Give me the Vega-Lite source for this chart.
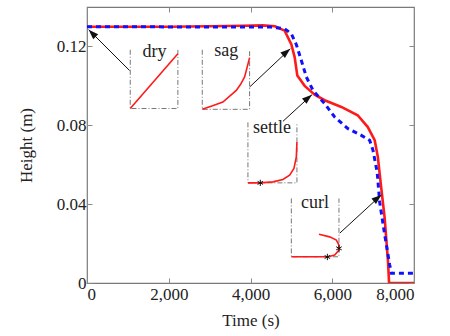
{
  "$schema": "https://vega.github.io/schema/vega-lite/v6.json",
  "width": 327,
  "height": 276,
  "autosize": {"type": "none"},
  "padding": {"left": 87, "top": 7, "right": 36, "bottom": 53},
  "config": {
    "view": {"stroke": "#7a7a7a", "strokeWidth": 1.2},
    "font": "'Liberation Serif', serif",
    "axis": {
      "labelFont": "'Liberation Serif', serif", "titleFont": "'Liberation Serif', serif",
      "labelFontSize": 17, "titleFontSize": 17, "labelColor": "#222", "titleColor": "#222",
      "titleFontWeight": "normal", "grid": false, "domain": false,
      "tickColor": "#8a8a8a", "tickSize": -5, "tickWidth": 1
    }
  },
  "datasets": {
    "curves": [
      {"s": "measured", "t": 0, "h": 0.13}, {"s": "measured", "t": 1000, "h": 0.13}, {"s": "measured", "t": 2000, "h": 0.13},
      {"s": "measured", "t": 3000, "h": 0.1302}, {"s": "measured", "t": 3800, "h": 0.1305}, {"s": "measured", "t": 4300, "h": 0.1307},
      {"s": "measured", "t": 4600, "h": 0.1302}, {"s": "measured", "t": 4835, "h": 0.128}, {"s": "measured", "t": 5000, "h": 0.121},
      {"s": "measured", "t": 5080, "h": 0.1146}, {"s": "measured", "t": 5145, "h": 0.1053}, {"s": "measured", "t": 5325, "h": 0.1},
      {"s": "measured", "t": 5570, "h": 0.0955}, {"s": "measured", "t": 5814, "h": 0.0927}, {"s": "measured", "t": 6222, "h": 0.0893},
      {"s": "measured", "t": 6622, "h": 0.0851}, {"s": "measured", "t": 6870, "h": 0.0791}, {"s": "measured", "t": 7038, "h": 0.0724},
      {"s": "measured", "t": 7115, "h": 0.064}, {"s": "measured", "t": 7200, "h": 0.048}, {"s": "measured", "t": 7282, "h": 0.033},
      {"s": "measured", "t": 7364, "h": 0.011}, {"s": "measured", "t": 7390, "h": 0.0}, {"s": "measured", "t": 8000, "h": 0.0},
      {"s": "model", "t": 0, "h": 0.13}, {"s": "model", "t": 4500, "h": 0.1298}, {"s": "model", "t": 4835, "h": 0.129},
      {"s": "model", "t": 5000, "h": 0.1264}, {"s": "model", "t": 5120, "h": 0.121}, {"s": "model", "t": 5244, "h": 0.1129},
      {"s": "model", "t": 5366, "h": 0.1045}, {"s": "model", "t": 5530, "h": 0.0977}, {"s": "model", "t": 5814, "h": 0.091},
      {"s": "model", "t": 6059, "h": 0.0842}, {"s": "model", "t": 6385, "h": 0.0783}, {"s": "model", "t": 6712, "h": 0.0749},
      {"s": "model", "t": 6915, "h": 0.0724}, {"s": "model", "t": 6997, "h": 0.0673}, {"s": "model", "t": 7100, "h": 0.056},
      {"s": "model", "t": 7160, "h": 0.041}, {"s": "model", "t": 7283, "h": 0.0245}, {"s": "model", "t": 7405, "h": 0.0093},
      {"s": "model", "t": 7446, "h": 0.005}, {"s": "model", "t": 8000, "h": 0.005}
    ],
    "insets": [
      {"k": "dry", "i": 0, "t": 1058, "h": 0.0885}, {"k": "dry", "i": 1, "t": 2223, "h": 0.1163},
      {"k": "sag", "i": 0, "t": 2820, "h": 0.0881}, {"k": "sag", "i": 1, "t": 3072, "h": 0.0899}, {"k": "sag", "i": 2, "t": 3324, "h": 0.0918},
      {"k": "sag", "i": 3, "t": 3652, "h": 0.0977}, {"k": "sag", "i": 4, "t": 3758, "h": 0.1008}, {"k": "sag", "i": 5, "t": 3856, "h": 0.1045},
      {"k": "sag", "i": 6, "t": 3978, "h": 0.1143},
      {"k": "settle", "i": 0, "t": 3937, "h": 0.0508}, {"k": "settle", "i": 1, "t": 4240, "h": 0.0508}, {"k": "settle", "i": 2, "t": 4548, "h": 0.0513},
      {"k": "settle", "i": 3, "t": 4793, "h": 0.0525}, {"k": "settle", "i": 4, "t": 4957, "h": 0.0547}, {"k": "settle", "i": 5, "t": 5063, "h": 0.0581},
      {"k": "settle", "i": 6, "t": 5121, "h": 0.064}, {"k": "settle", "i": 7, "t": 5136, "h": 0.0715},
      {"k": "curl", "i": 0, "t": 4999, "h": 0.0133}, {"k": "curl", "i": 1, "t": 5528, "h": 0.0133}, {"k": "curl", "i": 2, "t": 5895, "h": 0.0133},
      {"k": "curl", "i": 3, "t": 6059, "h": 0.0142}, {"k": "curl", "i": 4, "t": 6165, "h": 0.0167}, {"k": "curl", "i": 5, "t": 6165, "h": 0.0192},
      {"k": "curl", "i": 6, "t": 6101, "h": 0.0218}, {"k": "curl", "i": 7, "t": 5936, "h": 0.0234}, {"k": "curl", "i": 8, "t": 5675, "h": 0.0247}
    ],
    "boxes": [
      {"k": "dry", "i": 0, "t": 1058, "h": 0.1183}, {"k": "dry", "i": 1, "t": 1058, "h": 0.0885}, {"k": "dry", "i": 2, "t": 2223, "h": 0.0885}, {"k": "dry", "i": 3, "t": 2223, "h": 0.1183},
      {"k": "sag", "i": 0, "t": 2820, "h": 0.1183}, {"k": "sag", "i": 1, "t": 2820, "h": 0.0881}, {"k": "sag", "i": 2, "t": 3978, "h": 0.0881}, {"k": "sag", "i": 3, "t": 3978, "h": 0.1183},
      {"k": "settle", "i": 0, "t": 3937, "h": 0.0815}, {"k": "settle", "i": 1, "t": 3937, "h": 0.0508}, {"k": "settle", "i": 2, "t": 5136, "h": 0.0508}, {"k": "settle", "i": 3, "t": 5136, "h": 0.0815},
      {"k": "curl", "i": 0, "t": 4999, "h": 0.0429}, {"k": "curl", "i": 1, "t": 4999, "h": 0.0133}, {"k": "curl", "i": 2, "t": 6164, "h": 0.0133}, {"k": "curl", "i": 3, "t": 6164, "h": 0.0429}
    ],
    "arrows": [
      {"k": "dry", "t": 1040, "h": 0.1078, "t2": 40, "h2": 0.1285},
      {"k": "sag", "t": 3978, "h": 0.0994, "t2": 4974, "h2": 0.1188},
      {"k": "settle", "t": 4793, "h": 0.082, "t2": 5503, "h2": 0.0955},
      {"k": "curl", "t": 6185, "h": 0.0253, "t2": 7202, "h2": 0.0447}
    ],
    "stars": [
      {"k": "settle", "t": 4240, "h": 0.0508},
      {"k": "curl", "t": 5880, "h": 0.0132},
      {"k": "curl", "t": 6164, "h": 0.0176}
    ],
    "labels": [
      {"k": "dry", "t": 1652, "h": 0.1146},
      {"k": "sag", "t": 3408, "h": 0.1149},
      {"k": "settle", "t": 4524, "h": 0.0763},
      {"k": "curl", "t": 5577, "h": 0.0381}
    ]
  },
  "resolve": {"axis": {"x": "independent", "y": "independent"}},
  "layer": [
    {
      "data": {"name": "curves"},
      "transform": [{"filter": "datum.s === 'measured'"}],
      "mark": {"type": "line", "color": "#ff1a1a", "strokeWidth": 2.6, "clip": true},
      "encoding": {
        "x": {"field": "t", "type": "quantitative", "scale": {"domain": [0, 8000], "nice": false},
          "axis": {"orient": "bottom", "values": [0, 2000, 4000, 6000, 8000], "labelExpr": "format(datum.value, ',')", "title": "Time (s)", "labelPadding": 8, "titlePadding": 10}},
        "y": {"field": "h", "type": "quantitative", "scale": {"domain": [0, 0.14], "nice": false, "zero": false},
          "axis": {"orient": "left", "values": [0, 0.04, 0.08, 0.12], "labelExpr": "datum.value === 0 ? '0' : format(datum.value, '.2f')", "title": "Height (m)", "labelPadding": 6, "titlePadding": 21}}
      }
    },
    {
      "data": {"name": "curves"},
      "transform": [{"filter": "datum.s === 'model'"}],
      "mark": {"type": "line", "color": "#1010ff", "strokeWidth": 3, "strokeDash": [5, 4], "clip": true},
      "encoding": {
        "x": {"field": "t", "type": "quantitative",
          "axis": {"orient": "top", "values": [0, 2000, 4000, 6000, 8000], "labels": false, "title": null}},
        "y": {"field": "h", "type": "quantitative",
          "axis": {"orient": "right", "values": [0, 0.04, 0.08, 0.12], "labels": false, "title": null}}
      }
    },
    {
      "data": {"name": "boxes"},
      "mark": {"type": "line", "color": "#777", "strokeWidth": 1, "strokeDash": [5, 2, 1, 2]},
      "encoding": {
        "x": {"field": "t", "type": "quantitative", "axis": null},
        "y": {"field": "h", "type": "quantitative", "axis": null},
        "detail": {"field": "k"},
        "order": {"field": "i"}
      }
    },
    {
      "data": {"name": "insets"},
      "mark": {"type": "line", "color": "#ff1a1a", "strokeWidth": 1.6},
      "encoding": {
        "x": {"field": "t", "type": "quantitative", "axis": null},
        "y": {"field": "h", "type": "quantitative", "axis": null},
        "detail": {"field": "k"},
        "order": {"field": "i"}
      }
    },
    {
      "data": {"name": "arrows"},
      "mark": {"type": "rule", "color": "#111", "strokeWidth": 1},
      "encoding": {
        "x": {"field": "t", "type": "quantitative", "axis": null},
        "y": {"field": "h", "type": "quantitative", "axis": null},
        "x2": {"field": "t2"},
        "y2": {"field": "h2"}
      }
    },
    {
      "data": {"name": "arrows"},
      "transform": [{"filter": "datum.k === 'dry'"}],
      "mark": {"type": "point", "shape": "M0,0L-0.7,2L0.7,2Z", "filled": true, "color": "#111", "size": 100, "angle": 315, "opacity": 1},
      "encoding": {
        "x": {"field": "t2", "type": "quantitative", "axis": null},
        "y": {"field": "h2", "type": "quantitative", "axis": null}
      }
    },
    {
      "data": {"name": "arrows"},
      "transform": [{"filter": "datum.k !== 'dry'"}],
      "mark": {"type": "point", "shape": "M0,0L-0.7,2L0.7,2Z", "filled": true, "color": "#111", "size": 100, "angle": 50, "opacity": 1},
      "encoding": {
        "x": {"field": "t2", "type": "quantitative", "axis": null},
        "y": {"field": "h2", "type": "quantitative", "axis": null}
      }
    },
    {
      "data": {"name": "stars"},
      "mark": {"type": "point", "shape": "M0,-1L0,1M-0.87,-0.5L0.87,0.5M-0.87,0.5L0.87,-0.5", "filled": false, "color": "#111", "size": 40, "strokeWidth": 1, "opacity": 1},
      "encoding": {
        "x": {"field": "t", "type": "quantitative", "axis": null},
        "y": {"field": "h", "type": "quantitative", "axis": null}
      }
    },
    {
      "data": {"name": "labels"},
      "mark": {"type": "text", "font": "'Liberation Serif', serif", "fontSize": 18, "color": "#222", "baseline": "alphabetic", "align": "center"},
      "encoding": {
        "x": {"field": "t", "type": "quantitative", "axis": null},
        "y": {"field": "h", "type": "quantitative", "axis": null},
        "text": {"field": "k"}
      }
    }
  ]
}
